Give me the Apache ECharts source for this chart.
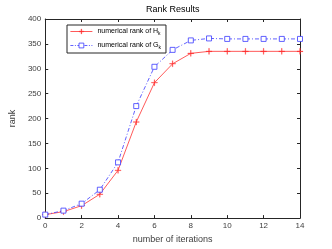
<!DOCTYPE html>
<html><head><meta charset="utf-8">
<script src="https://cdn.jsdelivr.net/npm/echarts@6/dist/echarts.min.js"></script>
<style>html,body{margin:0;padding:0;background:#fff}#c{width:332px;height:249px}</style>
</head><body><div id="c"></div>
<script>
const iterations = [0,1,2,3,4,5,6,7,8,9,10,11,12,13,14];
const rankH = [7,13,25,48,96,193,272,310,331,335,335,335,335,335,335];
const rankG = [7,15,29,57,112,225,304,338,357,361,360,360,360,360,360];
const xTicks = [0,2,4,6,8,10,12,14];
const yTicks = [0,50,100,150,200,250,300,350,400];

const pairs = (ys) => iterations.map((x,i)=>[x, ys[i]]);
const axisCol = '#262626';
const labCol = '#404040';
const font = 'Liberation Sans, Arial, sans-serif';
const plus = 'path://M4.5,0h1v4.5h4.5v1h-4.5v4.5h-1v-4.5h-4.5v-1h4.5z';
const redC = '#ff3030', blueC = '#3a3aff';

const chart = echarts.init(document.getElementById('c'), null, {renderer:'canvas'});
const baseX = {type:'value', min:0, max:14, interval:2,
  axisLine:{show:true, onZero:false, lineStyle:{color:axisCol, width:1}},
  axisTick:{show:true, inside:true, length:3, lineStyle:{color:axisCol}},
  splitLine:{show:false}};
const baseY = {type:'value', min:0, max:400, interval:50,
  axisLine:{show:true, onZero:false, lineStyle:{color:axisCol, width:1}},
  axisTick:{show:true, inside:true, length:3, lineStyle:{color:axisCol}},
  splitLine:{show:false}};
chart.setOption({
  animation:false,
  backgroundColor:'#fff',
  title:{text:'Rank Results', left:146, top:5, padding:0,
    textStyle:{fontFamily:font, fontSize:9, fontWeight:'normal', color:'#000'}},
  grid:{left:43, right:32, top:19, bottom:27, containLabel:false},
  legend:{left:67, top:25, orient:'vertical', itemWidth:22, itemHeight:6, itemGap:6,
    padding:[3,5,3,3], borderColor:'#262626', borderWidth:1, backgroundColor:'#fff',
    textStyle:{fontFamily:font, fontSize:7, color:'#000',
      rich:{sub:{fontSize:5, verticalAlign:'bottom', padding:[4,0,0,0], fontFamily:font, color:'#000'}}},
    formatter:(n)=> n==='H' ? 'numerical rank of H{sub|k}' : 'numerical rank of G{sub|k}',
    data:[
      {name:'H', itemStyle:{color:redC, borderColor:redC, borderWidth:0.5}, lineStyle:{width:0.8, color:redC}},
      {name:'G', itemStyle:{color:'#fff', borderColor:blueC, borderWidth:0.8}, lineStyle:{width:0.8, color:blueC, type:[3,1.5,1,1.5]}}
    ]},
  xAxis:[
    Object.assign({}, baseX, {position:'bottom', name:'number of iterations', nameLocation:'middle', nameGap:16,
      nameTextStyle:{fontFamily:font, fontSize:9, color:labCol},
      axisLabel:{fontFamily:font, fontSize:8, color:labCol, margin:4,
        formatter:(v)=> xTicks.includes(v) ? String(v) : ''}}),
    Object.assign({}, baseX, {position:'top', axisLabel:{show:false}})
  ],
  yAxis:[
    Object.assign({}, baseY, {position:'left', name:'rank', nameLocation:'middle', nameGap:18,
      nameTextStyle:{fontFamily:font, fontSize:9, color:labCol},
      axisLabel:{fontFamily:font, fontSize:8, color:labCol, margin:4,
        formatter:(v)=> yTicks.includes(v) ? String(v) : ''}}),
    Object.assign({}, baseY, {position:'right', axisLabel:{show:false}})
  ],
  series:[
    {name:'H', type:'line', data:pairs(rankH), symbol:plus, symbolSize:6,
      lineStyle:{color:redC, width:0.8}, itemStyle:{color:redC, borderColor:redC, borderWidth:0.3}},
    {name:'G', type:'line', data:pairs(rankG), symbol:'rect', symbolSize:5,
      lineStyle:{color:blueC, width:0.8, type:[4,2,1,2]},
      itemStyle:{color:'#fff', borderColor:blueC, borderWidth:0.8}}
  ]
});
</script></body></html>
